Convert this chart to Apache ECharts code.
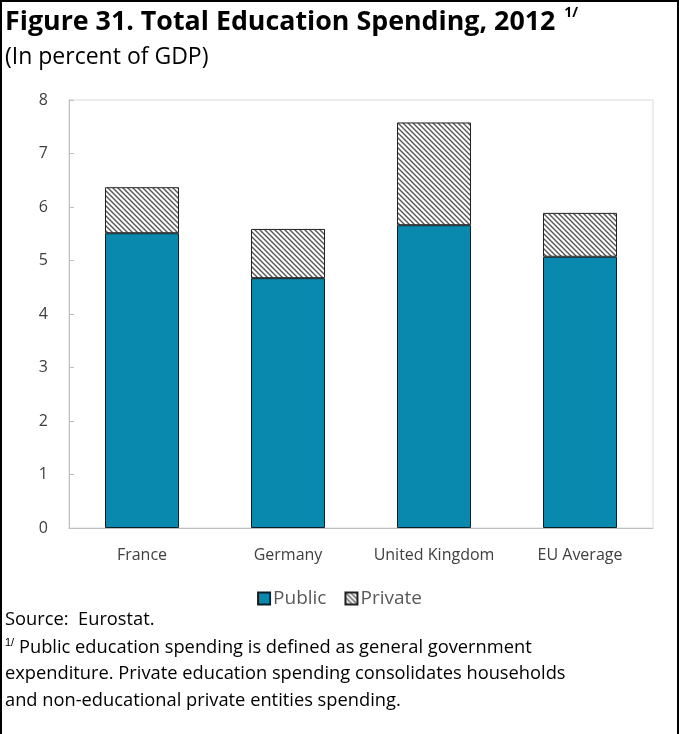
<!DOCTYPE html>
<html>
<head>
<meta charset="utf-8">
<script src="https://cdn.jsdelivr.net/npm/echarts@6/dist/echarts.min.js"></script>
<style>
html,body{margin:0;padding:0;background:#fff;}
#wrap{position:absolute;left:0;top:0;width:679px;height:734px;box-sizing:border-box;border-left:2px solid #000;border-top:2px solid #000;border-right:2px solid #000;}
#chart{position:absolute;left:0;top:0;width:679px;height:734px;}
</style>
</head>
<body>
<div id="wrap"></div>
<div id="chart"></div>
<script>
const categories = ['France', 'Germany', 'United Kingdom', 'EU Average'];
const publicValues = [5.51, 4.67, 5.66, 5.07];
const privateValues = [0.86, 0.92, 1.92, 0.82];
const seriesNames = ['Public', 'Private'];
const yTicks = [0, 1, 2, 3, 4, 5, 6, 7, 8];

function hatch() {
  const c = document.createElement('canvas');
  const s = 5;
  c.width = s; c.height = s;
  const g = c.getContext('2d');
  g.fillStyle = '#ffffff';
  g.fillRect(0, 0, s, s);
  g.strokeStyle = '#555555';
  g.lineWidth = 1.4;
  g.beginPath();
  g.moveTo(-1, -1); g.lineTo(s + 1, s + 1);
  g.moveTo(-1 - s, -1); g.lineTo(1, s + 1);
  g.moveTo(s - 1, -1); g.lineTo(2 * s + 1, s + 1);
  g.stroke();
  return c;
}

const chart = echarts.init(document.getElementById('chart'), null, {renderer: 'canvas'});
const font = '"Open Sans", "Noto Sans", sans-serif';
chart.setOption({
  animation: false,
  textStyle: {fontFamily: font},
  title: [{
    left: 0, top: 1,
    text: '{t|Figure 31. Total Education Spending, 2012}{s|1/}',
    textStyle: {rich: {
      t: {fontFamily: font, fontSize: 26.8, fontWeight: 'bold', color: '#000'},
      s: {fontFamily: font, fontSize: 14, fontWeight: 'bold', color: '#000', verticalAlign: 'top', padding: [0,0,18,9]}
    }}
  }, {
    left: 0, top: 41,
    text: '(In percent of GDP)',
    textStyle: {fontFamily: font, fontSize: 23, fontWeight: 'normal', color: '#000'}
  }],
  legend: {
    data: seriesNames,
    left: 'center', top: 584,
    icon: 'rect',
    itemWidth: 12, itemHeight: 12, itemGap: 18,
    textStyle: {fontFamily: font, fontSize: 19, color: '#595959', padding: [0,0,0,-2]}
  },
  grid: {left: 69, top: 100, right: 26, bottom: 206, show: true, borderColor: '#D9D9D9', borderWidth: 1},
  xAxis: {
    type: 'category', data: categories,
    axisLine: {lineStyle: {color: '#BFBFBF'}},
    axisTick: {show: false},
    axisLabel: {fontFamily: font, fontSize: 16, color: '#404040', margin: 19, interval: 0}
  },
  yAxis: {
    type: 'value', min: 0, max: 8, interval: 1,
    splitLine: {show: false},
    axisLine: {show: true, lineStyle: {color: '#BFBFBF'}},
    axisTick: {show: true, inside: true, length: 5, lineStyle: {color: '#BFBFBF'}},
    axisLabel: {fontFamily: font, fontSize: 16, color: '#404040', margin: 21,
      formatter: v => yTicks.indexOf(v) >= 0 ? String(v) : ''}
  },
  series: [{
    name: seriesNames[0], type: 'bar', stack: 'total', data: publicValues,
    barWidth: 74,
    itemStyle: {color: '#0A89AE', borderColor: '#0D1F26', borderWidth: 1}
  }, {
    name: seriesNames[1], type: 'bar', stack: 'total', data: privateValues,
    barWidth: 74,
    itemStyle: {color: {image: hatch(), repeat: 'repeat'}, borderColor: '#222', borderWidth: 1}
  }],
  graphic: [
    {type: 'text', left: 5, top: 611, style: {text: 'Source:  Eurostat.', font: '18.3px ' + font, fill: '#000'}},
    {type: 'text', left: 5, top: 637, style: {
      text: '{s|1/} Public education spending is defined as general government',
      font: '18.3px ' + font, fill: '#000',
      rich: {s: {fontSize: 11, verticalAlign: 'top', padding: [0,0,10,0], fill: '#000'}}
    }},
    {type: 'text', left: 5, top: 665, style: {text: 'expenditure. Private education spending consolidates households', font: '18.3px ' + font, fill: '#000'}},
    {type: 'text', left: 5, top: 692, style: {text: 'and non-educational private entities spending.', font: '18.3px ' + font, fill: '#000'}}
  ]
});
</script>
</body>
</html>
